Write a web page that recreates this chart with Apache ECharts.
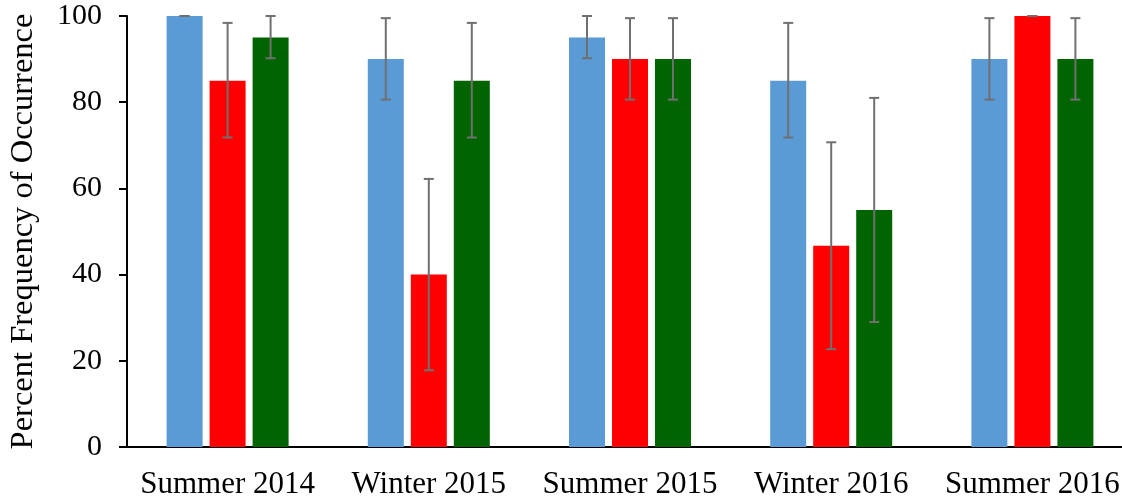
<!DOCTYPE html>
<html>
<head>
<meta charset="utf-8">
<script src="https://cdn.jsdelivr.net/npm/echarts@6/dist/echarts.min.js"></script>
<style>
html,body{margin:0;padding:0;background:#fff;overflow:hidden;}
#chart{width:1122px;height:500px;}
</style>
</head>
<body>
<div id="chart"></div>
<script>
var categories = ['Summer 2014', 'Winter 2015', 'Summer 2015', 'Winter 2016', 'Summer 2016'];
var yTicks = [0, 20, 40, 60, 80, 100];

var blueValues  = [100, 90, 95, 85, 90];
var blueLow     = [100, 80.6, 90.2, 71.8, 80.6];
var blueHigh    = [100, 99.5, 100, 98.4, 99.5];

var redValues   = [85, 40, 90, 46.7, 100];
var redLow      = [71.8, 17.8, 80.6, 22.7, 100];
var redHigh     = [98.4, 62.2, 99.5, 70.7, 100];

var greenValues = [95, 85, 90, 55, 90];
var greenLow    = [90.2, 71.8, 80.6, 29, 80.6];
var greenHigh   = [100, 98.4, 99.5, 81, 99.5];

var colors = ['#5B9BD5', '#FF0000', '#006400'];
var BAR_W = 36, BAR_GAP = 7;

function errData(low, high) {
  return categories.map(function (c, i) { return [i, low[i], high[i]]; });
}

function makeErr(idx) {
  return function (params, api) {
    var cat = api.value(0);
    var lo = api.coord([cat, api.value(1)]);
    var hi = api.coord([cat, api.value(2)]);
    var off = (idx - 1) * (BAR_W + BAR_GAP);
    var x = lo[0] + off;
    var hw = 5;
    var st = { stroke: '#707070', lineWidth: 2 };
    return {
      type: 'group',
      children: [
        { type: 'line', shape: { x1: x, y1: hi[1], x2: x, y2: lo[1] }, style: st },
        { type: 'line', shape: { x1: x - hw, y1: hi[1], x2: x + hw, y2: hi[1] }, style: st },
        { type: 'line', shape: { x1: x - hw, y1: lo[1], x2: x + hw, y2: lo[1] }, style: st }
      ]
    };
  };
}

var font = '"Liberation Serif", "Times New Roman", serif';
var chart = echarts.init(document.getElementById('chart'));
var valueSets = [blueValues, redValues, greenValues];
var errSets = [[blueLow, blueHigh], [redLow, redHigh], [greenLow, greenHigh]];
var series = [];
valueSets.forEach(function (vals, i) {
  series.push({
    type: 'bar', name: 's' + i, data: vals, barWidth: BAR_W,
    barGap: (BAR_GAP / BAR_W * 100) + '%',
    itemStyle: { color: colors[i] }, z: 2, animation: false
  });
});
errSets.forEach(function (e, i) {
  series.push({
    type: 'custom', name: 'e' + i, data: errData(e[0], e[1]),
    renderItem: makeErr(i), z: 5, animation: false
  });
});

chart.setOption({
  animation: false,
  grid: { left: 127, width: 1006, top: 16, bottom: 53, containLabel: false, outerBoundsMode: 'none' },
  xAxis: {
    type: 'category', data: categories,
    axisLine: { show: true, lineStyle: { color: '#000', width: 2 } },
    axisTick: { show: false },
    axisLabel: { color: '#000', fontFamily: font, fontSize: 31, margin: 22, interval: 0 },
    splitLine: { show: false }
  },
  yAxis: {
    type: 'value', min: yTicks[0], max: yTicks[yTicks.length - 1], interval: 20,
    name: 'Percent Frequency of Occurrence', nameLocation: 'middle', nameGap: 87,
    nameTextStyle: { color: '#000', fontFamily: font, fontSize: 32.5 },
    axisLine: { show: true, lineStyle: { color: '#000', width: 2 } },
    axisTick: { show: true, inside: false, length: 8, lineStyle: { color: '#000', width: 2 } },
    axisLabel: { color: '#000', fontFamily: font, fontSize: 30, margin: 25 },
    splitLine: { show: false }
  },
  series: series
});
</script>
</body>
</html>
